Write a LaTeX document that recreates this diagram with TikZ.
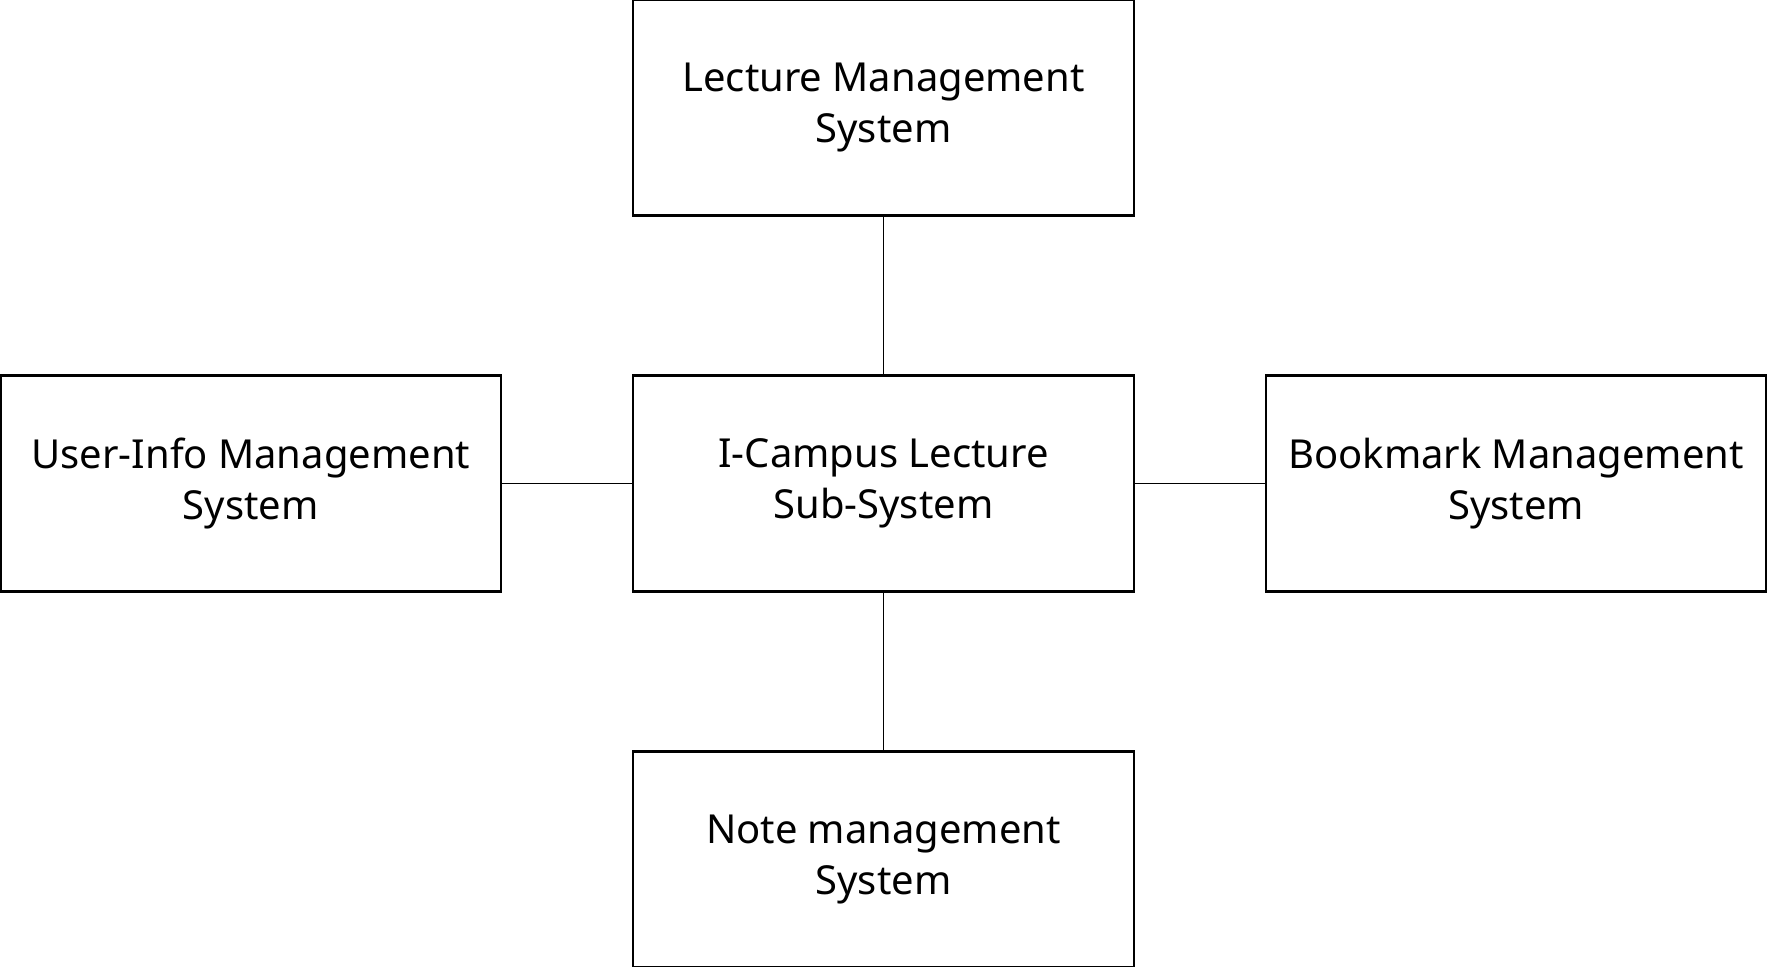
\documentclass[tikz,border=0pt]{standalone}
\usepackage{fontspec}
\setmainfont{Noto Sans}
\usetikzlibrary{positioning}

\begin{document}
\begin{tikzpicture}[
    sys/.style={draw, line width=0.6pt, minimum width=4.45cm, minimum height=1.92cm,
      align=center, inner sep=0pt, font=\fontsize{10.1}{12.8}\selectfont},
    link/.style={draw, line width=0.3pt}
  ]

  \useasboundingbox (-7.85,-4.295) rectangle (7.85,4.295);

  % Define nodes
  \node[sys]                          (c) {I-Campus Lecture\\Sub-System};
  \node[sys, above=1.4cm of c]        (l) {Lecture Management\\System};
  \node[sys, left=1.15cm of c]        (u) {User-Info Management\\System};
  \node[sys, right=1.15cm of c]       (b) {Bookmark Management\\System};
  \node[sys, below=1.4cm of c]        (n) {Note management\\System};

  % Connect the nodes
  \draw[link] (c) -- (l) ; %
  \draw[link] (c) -- (u) ; %
  \draw[link] (c) -- (b) ; %
  \draw[link] (c) -- (n) ; %

\end{tikzpicture}
\end{document}
